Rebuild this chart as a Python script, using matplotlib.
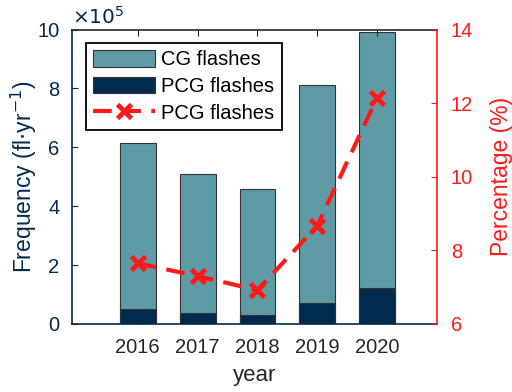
import matplotlib.pyplot as plt
import numpy as np

plt.rcParams["font.family"] = ["Liberation Sans", "DejaVu Sans"]

years = [2016, 2017, 2018, 2019, 2020]
cg_flashes = [6.15, 5.10, 4.58, 8.12, 9.93]   # x 1e5
pcg_flashes = [0.50, 0.37, 0.32, 0.70, 1.21]  # x 1e5
pcg_percent = [7.65, 7.30, 6.92, 8.67, 12.15]

navy = "#002B4E"
teal = "#5E9BA4"
red = "#FF1A1A"

fig = plt.figure(figsize=(5.12, 3.92), dpi=100)
ax = fig.add_axes([0.1406, 0.1735, 0.7129, 0.7512])

b1 = ax.bar(years, cg_flashes, width=0.6, color=teal, edgecolor="#333333", linewidth=0.8, label="CG flashes")
b2 = ax.bar(years, pcg_flashes, width=0.6, color=navy, edgecolor="#333333", linewidth=0.8, label="PCG flashes")
ax.set_xlim(2014.9, 2021.0)
ax.set_ylim(0, 10)
ax.set_yticks([0, 2, 4, 6, 8, 10])
ax.set_xticks(years)
ax.tick_params(axis="both", direction="in", labelsize=14.5, length=4)
ax.tick_params(axis="x", top=True, colors="#262626", labelcolor="#262626", pad=10)
ax.tick_params(axis="y", colors=navy, pad=9)
ax.spines["left"].set_color(navy)
ax.spines["bottom"].set_color(navy)
ax.spines["top"].set_color("#262626")
ax.spines["right"].set_visible(False)
for s in ax.spines.values():
    s.set_linewidth(1.2)
ax.set_xlabel("year", fontsize=16, color="#262626", labelpad=6)
ax.set_ylabel("Frequency (fl$\\cdot$yr$^{-1}$)", fontsize=16.5, color=navy, labelpad=-1)
ax.text(0.0, 1.005, r"$\times10^5$", transform=ax.transAxes, fontsize=14.5, color=navy,
        va="bottom", ha="left", math_fontfamily="dejavusans")

ax2 = ax.twinx()
ln, = ax2.plot(years, pcg_percent, color=red, linestyle=(0, (4.5, 2.5)), linewidth=3,
               marker="x", markersize=10, markeredgewidth=3.5, label="PCG flashes")
ax2.set_ylim(6, 14)
ax2.set_yticks([6, 8, 10, 12, 14])
ax2.tick_params(axis="y", direction="in", labelsize=14.5, colors=red, length=4, pad=10)
ax2.spines["right"].set_color(red)
ax2.spines["right"].set_linewidth(1.2)
for k in ["left", "top", "bottom"]:
    ax2.spines[k].set_visible(False)
ax2.set_ylabel("Percentage (%)", fontsize=16.5, color=red, labelpad=12)

leg = ax.legend([b1, b2, ln], ["CG flashes", "PCG flashes", "PCG flashes"],
                loc="upper left", bbox_to_anchor=(0.038, 0.955), fontsize=14.5, fancybox=False,
                edgecolor="black", framealpha=1, handlelength=3.1, handleheight=0.9,
                borderpad=0.35, labelspacing=0.38, handletextpad=0.3, borderaxespad=0)
leg.get_frame().set_linewidth(1.3)

fig.savefig("out.png", dpi=100)
